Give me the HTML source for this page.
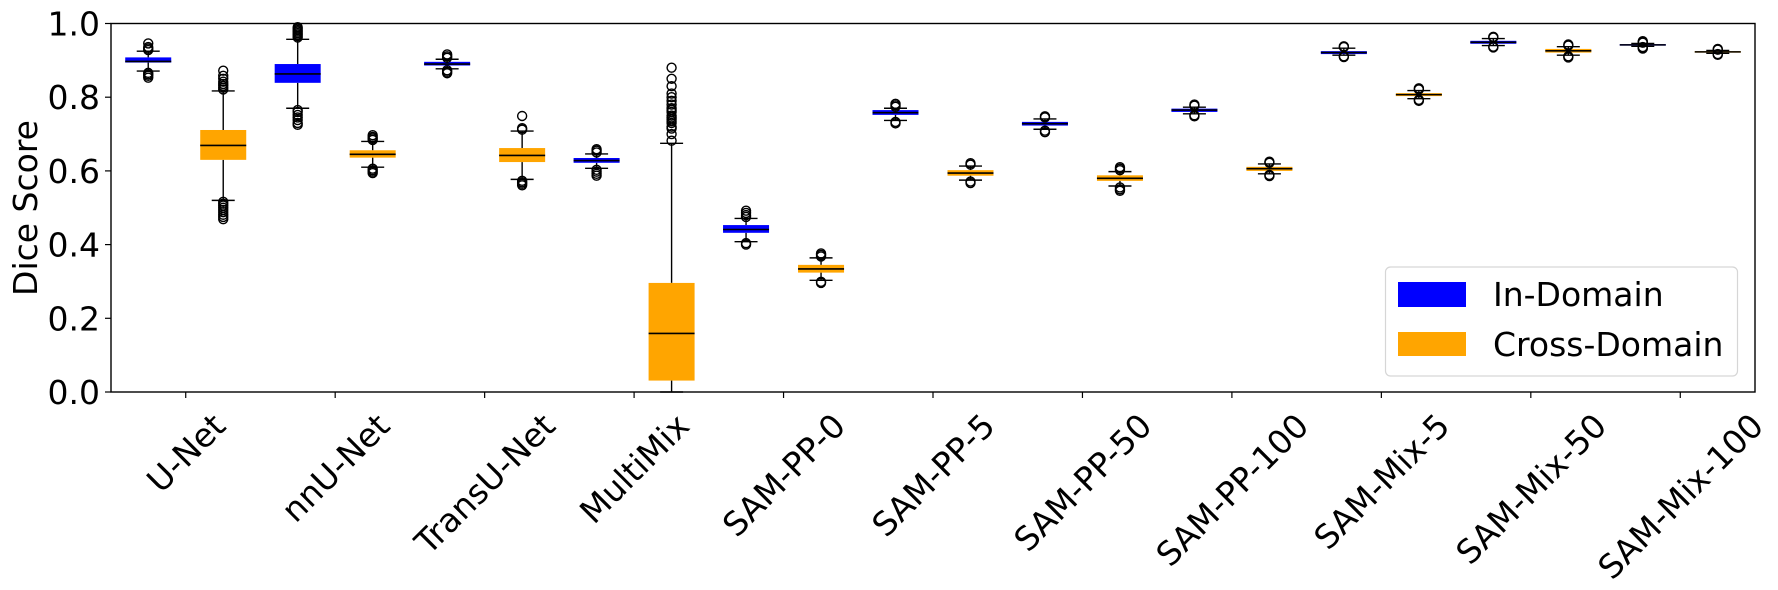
<!DOCTYPE html>
<html><head><meta charset="utf-8">
<style>
html,body{margin:0;padding:0;background:#fff;}
svg{display:block;font-family:"DejaVu Sans","Liberation Sans",sans-serif;}
</style></head>
<body>
<svg id="chart" width="1778" height="590" viewBox="0 0 1778 590" xmlns="http://www.w3.org/2000/svg">
  <g id="plot"></g>
  <rect x="111" y="23.5" width="1644" height="368.5" fill="none" stroke="#000" stroke-width="1.4"/>
  <g id="yaxis"></g>
  <g id="xaxis"></g>
  <text x="0" y="0" font-size="33" text-anchor="middle" transform="translate(37,208) rotate(-90)">Dice Score</text>
  <g>
    <rect x="1385.5" y="267" width="352" height="109" rx="5" fill="#fff" stroke="#d6d6d6" stroke-width="1.2"/>
    <g>
      <rect x="1398" y="282" width="68" height="25" fill="#0000ff"/>
      <text x="1493" y="306" font-size="33">In-Domain</text>
    </g>
    <g>
      <rect x="1398" y="332" width="68" height="24" fill="#ffa500"/>
      <text x="1493" y="356" font-size="33">Cross-Domain</text>
    </g>
  </g>
</svg>
<script>
const categories = ["U-Net","nnU-Net","TransU-Net","MultiMix","SAM-PP-0","SAM-PP-5","SAM-PP-50","SAM-PP-100","SAM-Mix-5","SAM-Mix-50","SAM-Mix-100"];
const yTicks = [0.0,0.2,0.4,0.6,0.8,1.0];
const yTickLabels = ["0.0","0.2","0.4","0.6","0.8","1.0"];

// In-Domain: whisker low, Q1, median, Q3, whisker high
const inLo  = [0.871,0.770,0.877,0.607,0.408,0.737,0.713,0.755,0.914,0.940,0.938];
const inQ1  = [0.894,0.839,0.886,0.622,0.432,0.752,0.723,0.760,0.917,0.945,0.940];
const inMed = [0.897,0.863,0.890,0.628,0.441,0.758,0.728,0.765,0.921,0.949,0.942];
const inQ3  = [0.908,0.890,0.896,0.635,0.453,0.765,0.733,0.769,0.925,0.953,0.944];
const inHi  = [0.925,0.957,0.903,0.646,0.471,0.770,0.741,0.773,0.933,0.959,0.946];
const inOut = [
  [0.928,0.932,0.936,0.946,0.866,0.862,0.858,0.853],
  [0.962,0.966,0.970,0.974,0.978,0.982,0.986,0.990,0.765,0.760,0.752,0.745,0.738,0.730,0.725],
  [0.907,0.911,0.916,0.873,0.869,0.865],
  [0.650,0.655,0.659,0.603,0.598,0.592,0.587],
  [0.475,0.480,0.486,0.492,0.404,0.400],
  [0.774,0.778,0.782,0.733,0.729],
  [0.745,0.748,0.709,0.705],
  [0.777,0.780,0.751,0.748],
  [0.936,0.938,0.911,0.909],
  [0.962,0.964,0.937,0.935],
  [0.948,0.950,0.952,0.936,0.934,0.932]
];

// Cross-Domain
const crLo  = [0.520,0.610,0.577,0.000,0.303,0.575,0.559,0.592,0.796,0.914,0.919];
const crQ1  = [0.630,0.636,0.624,0.031,0.324,0.587,0.573,0.600,0.803,0.921,0.921];
const crMed = [0.669,0.645,0.642,0.159,0.334,0.594,0.580,0.606,0.807,0.926,0.923];
const crQ3  = [0.711,0.656,0.662,0.296,0.345,0.602,0.588,0.611,0.811,0.931,0.925];
const crHi  = [0.817,0.680,0.708,0.675,0.364,0.613,0.598,0.619,0.818,0.937,0.927];
const crOut = [
  [0.821,0.826,0.831,0.836,0.842,0.850,0.858,0.872,0.516,0.511,0.506,0.500,0.494,0.488,0.481,0.475,0.469],
  [0.684,0.688,0.692,0.697,0.606,0.602,0.598,0.594],
  [0.712,0.716,0.749,0.573,0.569,0.565,0.561],
  [0.682,0.700,0.715,0.720,0.730,0.735,0.740,0.745,0.750,0.760,0.765,0.770,0.780,0.790,0.800,0.810,0.830,0.850,0.880],
  [0.368,0.372,0.376,0.299,0.296],
  [0.617,0.621,0.571,0.567],
  [0.602,0.606,0.610,0.555,0.550,0.546],
  [0.622,0.625,0.589,0.586],
  [0.821,0.824,0.793,0.790],
  [0.940,0.943,0.911,0.908],
  [0.929,0.931,0.917,0.915]
];

const NS = "http://www.w3.org/2000/svg";
const X0 = 111, X1 = 1755, Y0 = 392, Y1 = 23.5;
const step = (X1 - X0) / categories.length;
function xScale(i){ return X0 + step * (i + 0.5); }
function yScale(v){ return Y0 - (Y0 - Y1) * v; }
function mk(tag, attrs, parent){
  const e = document.createElementNS(NS, tag);
  for (const k in attrs) e.setAttribute(k, attrs[k]);
  parent.appendChild(e);
  return e;
}
const plot = document.getElementById('plot');
const BW = 46, CW = 23, OFF = 37.5;

function drawBox(cx, lo, q1, med, q3, hi, outs, color, name){
  const g = mk('g', {}, plot);
  
  
  const w1 = mk('line', {x1:cx, x2:cx, y1:yScale(q1), y2:yScale(lo), stroke:'#000', 'stroke-width':1.4}, g);
  
  
  const w2 = mk('line', {x1:cx, x2:cx, y1:yScale(q3), y2:yScale(hi), stroke:'#000', 'stroke-width':1.4}, g);
  
  
  const c1 = mk('line', {x1:cx-CW/2, x2:cx+CW/2, y1:yScale(lo), y2:yScale(lo), stroke:'#000', 'stroke-width':1.4}, g);
  
  
  const c2 = mk('line', {x1:cx-CW/2, x2:cx+CW/2, y1:yScale(hi), y2:yScale(hi), stroke:'#000', 'stroke-width':1.4}, g);
  
  
  const r = mk('rect', {x:cx-BW/2, y:yScale(q3), width:BW, height:Math.max(1.5, yScale(q1)-yScale(q3)), fill:color}, g);
  
  
  const m = mk('line', {x1:cx-BW/2, x2:cx+BW/2, y1:yScale(med), y2:yScale(med), stroke:'#000', 'stroke-width':1.6}, g);
  
  
  outs.forEach(v => {
    const o = mk('circle', {cx:cx, cy:yScale(v), r:4.5, fill:'none', stroke:'#000', 'stroke-width':1.4}, g);
    
    
  });
}
categories.forEach((c, i) => {
  const cx = xScale(i);
  drawBox(cx - OFF, inLo[i], inQ1[i], inMed[i], inQ3[i], inHi[i], inOut[i], '#0000ff', 'box-in-domain-' + c.toLowerCase());
  drawBox(cx + OFF, crLo[i], crQ1[i], crMed[i], crQ3[i], crHi[i], crOut[i], '#ffa500', 'box-cross-domain-' + c.toLowerCase());
});

const yax = document.getElementById('yaxis');
yTicks.forEach((v, i) => {
  const y = yScale(v);
  const t = mk('line', {x1:X0-6, x2:X0, y1:y, y2:y, stroke:'#000', 'stroke-width':1.2}, yax);
  
  
  const l = mk('text', {x:100, y:y+12, 'font-size':33, 'text-anchor':'end'}, yax);
  
  
  l.textContent = yTickLabels[i];
});

const xax = document.getElementById('xaxis');
categories.forEach((c, i) => {
  const x = xScale(i);
  const t = mk('line', {x1:x, x2:x, y1:Y0, y2:Y0+6, stroke:'#000', 'stroke-width':1.2}, xax);
  
  
  const l = mk('text', {x:0, y:0, 'font-size':33, 'text-anchor':'middle'}, xax);
  
  
  l.textContent = c;
  const w = l.getComputedTextLength();
  const h = 38;
  const cy = 406 + (w + h) * 0.7071 / 2;
  l.setAttribute('transform', 'translate(' + x + ',' + cy + ') rotate(-45) translate(0,12)');
});
</script>
</body></html>
